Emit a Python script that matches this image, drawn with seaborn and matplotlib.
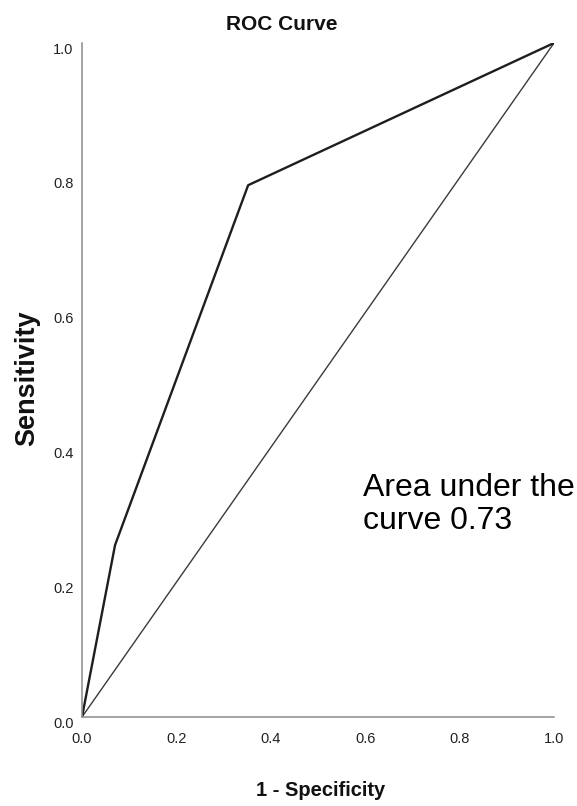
import matplotlib
matplotlib.use("Agg")
import matplotlib.pyplot as plt
import matplotlib.transforms as mtransforms
import seaborn as sns
import pandas as pd

# data
fpr = [0.0, 0.07, 0.352, 1.0]
tpr = [0.0, 0.255, 0.789, 1.0]
ref_x = [0.0, 1.0]
ref_y = [0.0, 1.0]
ticks = [0.0, 0.2, 0.4, 0.6, 0.8, 1.0]
tick_labels = ["0.0", "0.2", "0.4", "0.6", "0.8", "1.0"]
title = "ROC Curve"
xlabel = "1 - Specificity"
ylabel = "Sensitivity"
annotation = "Area under the\ncurve 0.73"

sns.set_theme(style="white")
plt.rcParams['font.family'] = ['Liberation Sans', 'DejaVu Sans']

narrow = ['Liberation Sans Narrow', 'Liberation Sans', 'DejaVu Sans']

fig = plt.figure(figsize=(5.77, 8.06), dpi=100)
ax = fig.add_axes([82/577, 1-717/806, (554-82)/577, (717-43)/806])

roc = pd.DataFrame({"x": fpr, "y": tpr})
ref = pd.DataFrame({"x": ref_x, "y": ref_y})
sns.lineplot(data=ref, x="x", y="y", sort=False, ax=ax, color="#3a3a3a", linewidth=1.0)
sns.lineplot(data=roc, x="x", y="y", sort=False, ax=ax, color="#1e1e1e", linewidth=1.7)

ax.set_xlim(0, 1)
ax.set_ylim(0, 1)
ax.set_xticks(ticks)
ax.set_yticks(ticks)
ax.set_xticklabels(tick_labels, family=narrow, fontsize=10.5, color="#222222")
ax.set_yticklabels(tick_labels, family=narrow, fontsize=10.5, color="#222222")
ax.tick_params(axis='both', length=0)
ax.tick_params(axis='x', pad=11)
ax.tick_params(axis='y', pad=6)
offset = mtransforms.ScaledTranslation(0, -5/100, fig.dpi_scale_trans)
for lab in ax.get_yticklabels():
    lab.set_transform(lab.get_transform() + offset)

for s in ["top", "right"]:
    ax.spines[s].set_visible(False)
for s in ["left", "bottom"]:
    ax.spines[s].set_color("#8a8a8a")
    ax.spines[s].set_linewidth(1.1)
ax.grid(False)

ax.set_xlabel("")
ax.set_ylabel("")
fig.text(321/577, 1-790/806, xlabel, ha="center", va="center", family=narrow,
         fontsize=14.5, fontweight="bold", color="#111111")
fig.text(27/577, 1-378/806, ylabel, ha="center", va="center", rotation=90,
         fontsize=19.5, fontweight="bold", color="#111111")
fig.text(282/577, 1-24/806, title, ha="center", va="center", family=narrow,
         fontsize=15, fontweight="bold", color="#111111")

ax.text(0.595, 0.362, annotation, transform=ax.transData, ha="left", va="top",
        fontsize=23, color="black", linespacing=1.15)

fig.savefig("out.png", dpi=100)
